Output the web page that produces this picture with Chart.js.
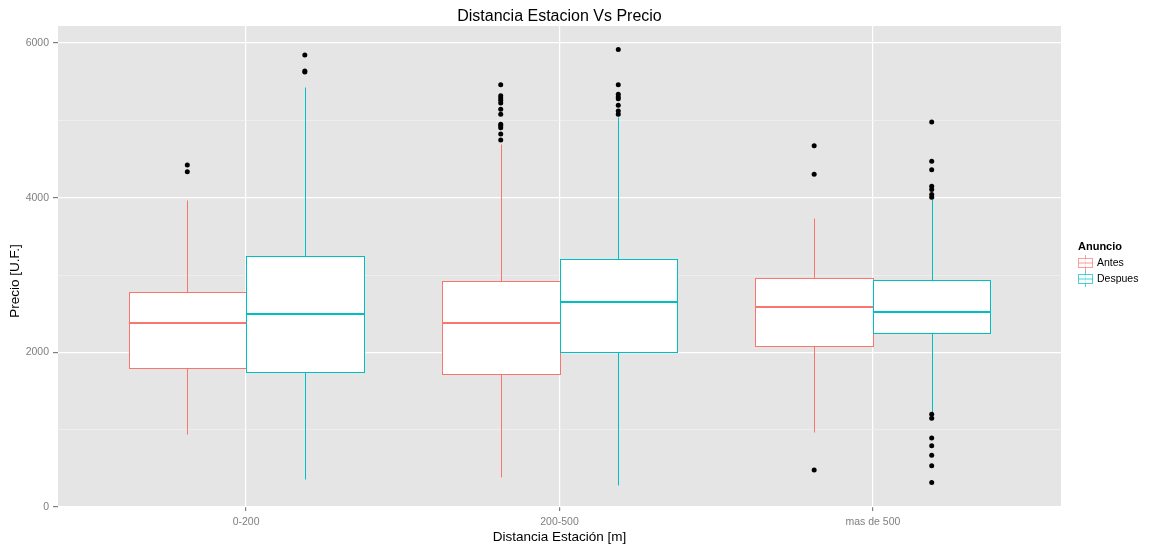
<!DOCTYPE html>
<html>
<head>
<meta charset="utf-8">
<script src="https://cdn.jsdelivr.net/npm/chart.js@4.4.0/dist/chart.umd.min.js"></script>
<style>
  html, body { margin: 0; padding: 0; background: #fff; }
</style>
</head>
<body>
<canvas id="boxChart" width="1150" height="546"></canvas>
<script>
// Rangos de distancia a la estación
const categorias = ['0-200', '200-500', 'mas de 500'];
const grupos = ['Antes', 'Despues'];

// Cajas: [bigote inferior, Q1, mediana, Q3, bigote superior]
const antesCajas = [
    [946, 1795, 2379, 2785, 3974],
    [394, 1718, 2379, 2919, 4700],
    [965, 2087, 2582, 2966, 3737]
];
const despuesCajas = [
    [360, 1740, 2495, 3249, 5431],
    [287, 2001, 2657, 3206, 5040],
    [1222, 2250, 2524, 2936, 3987]
];

// Valores atípicos por rango
const antesAtipicos = [
    [4424, 4334],
    [5459, 5319, 5289, 5260, 5225, 5144, 5080, 4951, 4929, 4904, 4823, 4745],
    [4672, 4303, 480]
];
const despuesAtipicos = [
    [5846, 5637, 5624],
    [5916, 5459, 5337, 5302, 5280, 5195, 5122, 5080],
    [4980, 4470, 4360, 4149, 4106, 4042, 4007, 1200, 1148, 891, 792, 669, 535, 316]
];

// Marcas del eje Y
const ticksMayores = [0, 2000, 4000, 6000];
const ticksMenores = [1000, 3000, 5000];

const colores = ['#F8766D', '#00BFC4'];
const anchoCaja = 0.375;
const fuente = "'Liberation Sans', Arial, sans-serif";

Chart.defaults.font.family = fuente;

// Puntos atípicos como datos scatter (x = rango +/- media caja)
function puntosAtipicos(lista, g) {
    const pts = [];
    lista.forEach((vals, i) => {
        const cx = i + 1 + (g === 0 ? -anchoCaja / 2 : anchoCaja / 2);
        vals.forEach(v => pts.push({ x: cx, y: v }));
    });
    return pts;
}

const px = v => Math.round(v) + 0.5;

// Fondo gris del panel
const fondoPlugin = {
    id: 'fondo',
    beforeDraw(chart) {
        const { ctx, chartArea: a } = chart;
        ctx.save();
        ctx.fillStyle = '#E5E5E5';
        ctx.fillRect(a.left, a.top, a.right - a.left, a.bottom - a.top);
        ctx.restore();
    }
};

// Cajas, medianas y bigotes
const cajasPlugin = {
    id: 'cajas',
    beforeDatasetsDraw(chart) {
        const { ctx, scales: { x, y } } = chart;
        ctx.save();
        [antesCajas, despuesCajas].forEach((cajas, g) => {
            cajas.forEach((c, i) => {
                const centro = i + 1 + (g === 0 ? -anchoCaja / 2 : anchoCaja / 2);
                const x0 = px(x.getPixelForValue(centro - anchoCaja / 2));
                const x1 = px(x.getPixelForValue(centro + anchoCaja / 2));
                const xm = px(x.getPixelForValue(centro));
                const [bi, q1, med, q3, bs] = c.map(v => y.getPixelForValue(v));
                ctx.strokeStyle = colores[g];
                ctx.lineWidth = 1;
                // bigotes
                ctx.beginPath();
                ctx.moveTo(xm, px(bs));
                ctx.lineTo(xm, px(q3));
                ctx.moveTo(xm, px(q1));
                ctx.lineTo(xm, px(bi));
                ctx.stroke();
                // caja
                ctx.fillStyle = '#FFFFFF';
                ctx.fillRect(x0, px(q3), x1 - x0, px(q1) - px(q3));
                ctx.strokeRect(x0, px(q3), x1 - x0, px(q1) - px(q3));
                // mediana
                ctx.lineWidth = 2;
                ctx.beginPath();
                ctx.moveTo(x0, Math.round(med));
                ctx.lineTo(x1, Math.round(med));
                ctx.stroke();
            });
        });
        ctx.restore();
    }
};

// Título, título del eje Y y leyenda
const extrasPlugin = {
    id: 'extras',
    afterDraw(chart) {
        const { ctx, chartArea: a } = chart;
        ctx.save();
        ctx.fillStyle = '#000';
        ctx.font = '16px ' + fuente;
        ctx.textAlign = 'center';
        ctx.textBaseline = 'middle';
        ctx.fillText('Distancia Estacion Vs Precio', (a.left + a.right) / 2, 17);
        ctx.font = '13.5px ' + fuente;
        ctx.translate(15, 281);
        ctx.rotate(-Math.PI / 2);
        ctx.fillText('Precio [U.F.]', 0, 0);
        ctx.restore();

        const lx = a.right + 17;
        ctx.save();
        ctx.fillStyle = '#000';
        ctx.font = 'bold 11px ' + fuente;
        ctx.textBaseline = 'middle';
        ctx.fillText('Anuncio', lx, 247);
        grupos.forEach((g, i) => {
            const ky = 255 + i * 16;
            ctx.strokeStyle = colores[i];
            ctx.globalAlpha = 0.7;
            ctx.lineWidth = 1;
            ctx.beginPath();
            ctx.moveTo(lx + 7.5, ky);
            ctx.lineTo(lx + 7.5, ky + 16);
            ctx.stroke();
            ctx.fillStyle = '#FFFFFF';
            ctx.fillRect(lx + 0.5, ky + 3.5, 14, 9);
            ctx.strokeRect(lx + 0.5, ky + 3.5, 14, 9);
            ctx.beginPath();
            ctx.moveTo(lx + 0.5, ky + 8);
            ctx.lineTo(lx + 14.5, ky + 8);
            ctx.stroke();
            ctx.globalAlpha = 1;
            ctx.fillStyle = '#000';
            ctx.font = '10.5px ' + fuente;
            ctx.fillText(g, lx + 19, ky + 8);
        });
        ctx.restore();
    }
};

const esMayor = v => ticksMayores.includes(v);

const ctx = document.getElementById('boxChart').getContext('2d');
const boxChart = new Chart(ctx, {
    type: 'scatter',
    data: {
        datasets: [
            {
                label: 'Antes',
                data: puntosAtipicos(antesAtipicos, 0),
                backgroundColor: '#000',
                borderColor: '#000',
                pointRadius: 2.5,
                borderWidth: 0
            },
            {
                label: 'Despues',
                data: puntosAtipicos(despuesAtipicos, 1),
                backgroundColor: '#000',
                borderColor: '#000',
                pointRadius: 2.5,
                borderWidth: 0
            }
        ]
    },
    options: {
        responsive: false,
        animation: false,
        layout: {
            padding: { left: 0, right: 89, top: 26, bottom: 0 }
        },
        plugins: {
            legend: { display: false },
            tooltip: { enabled: false },
            title: { display: false }
        },
        scales: {
            x: {
                type: 'linear',
                min: 0.4,
                max: 3.6,
                afterBuildTicks: scale => {
                    scale.ticks = categorias.map((c, i) => ({ value: i + 1 }));
                },
                afterFit: scale => { scale.height = 39; },
                border: { display: false },
                grid: {
                    color: '#FFFFFF',
                    lineWidth: 1.2,
                    tickColor: '#7F7F7F',
                    tickLength: 4
                },
                ticks: {
                    color: '#7F7F7F',
                    font: { size: 10.5 },
                    padding: 5,
                    maxRotation: 0,
                    callback: v => categorias[v - 1]
                },
                title: {
                    display: true,
                    text: 'Distancia Estación [m]',
                    color: '#000',
                    font: { size: 13.5 },
                    padding: { top: 0, bottom: 1 }
                }
            },
            y: {
                min: 0,
                max: 6220,
                afterBuildTicks: scale => {
                    scale.ticks = ticksMayores.concat(ticksMenores)
                        .sort((a, b) => a - b)
                        .map(v => ({ value: v }));
                },
                afterFit: scale => { scale.width = 58; },
                border: { display: false },
                grid: {
                    color: c => esMayor(c.tick.value) ? '#FFFFFF' : '#F2F2F2',
                    lineWidth: c => esMayor(c.tick.value) ? 1.2 : 0.7,
                    tickColor: c => esMayor(c.tick.value) ? '#7F7F7F' : 'rgba(0,0,0,0)',
                    tickLength: 5
                },
                ticks: {
                    color: '#7F7F7F',
                    font: { size: 10.5 },
                    padding: 4,
                    autoSkip: false,
                    callback: v => esMayor(v) ? String(v) : ''
                }
            }
        }
    },
    plugins: [fondoPlugin, cajasPlugin, extrasPlugin]
});
</script>
</body>
</html>
